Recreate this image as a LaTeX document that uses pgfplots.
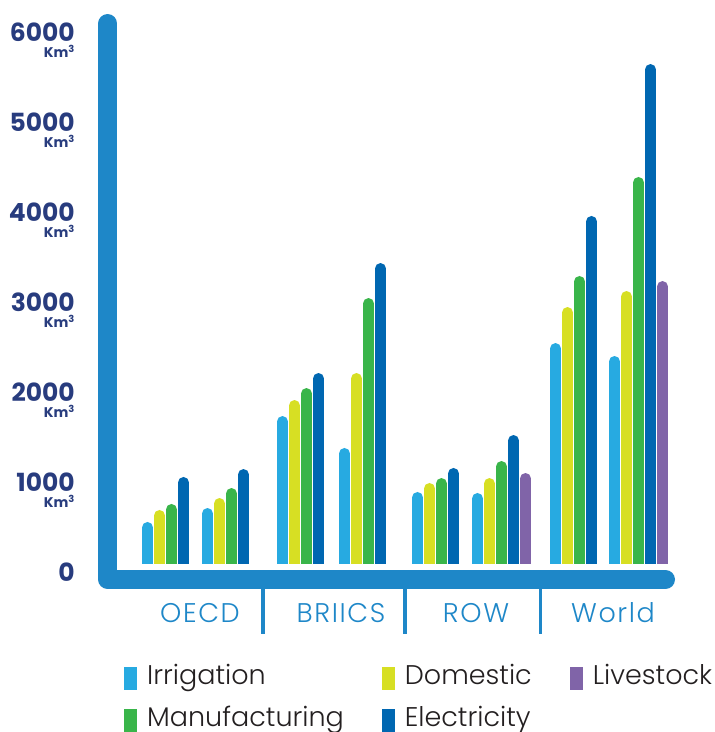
\documentclass[border=0pt]{standalone}
\usepackage{fontspec}
\setmainfont{Poppins}
\newfontfamily\lightfont{Poppins}[UprightFont=* Light]
\newfontfamily\catfont{Poppins}[UprightFont=* Light, LetterSpace=6]
\usepackage{pgfplots}
\usepackage{pgfplotstable}
\pgfplotsset{compat=1.18}

\definecolor{axblue}{HTML}{1E87C8}
\definecolor{navy}{HTML}{283C7E}
\definecolor{legtext}{HTML}{231F20}
\definecolor{cIrr}{HTML}{27AAE1}
\definecolor{cDom}{HTML}{D7DF23}
\definecolor{cMan}{HTML}{39B54A}
\definecolor{cEle}{HTML}{0067B1}
\definecolor{cLiv}{HTML}{8064A8}

% water withdrawals, km3; pos = centre of the group (x in picture units)
\pgfplotstableread{
pos   irr  dom  man  ele  liv
165.5 456  589  656  956  nan
225.5 611  722  833  1044 nan
300.5 1633 1811 1944 2111 nan
362.5 1278 2111 2944 3333 nan
435.5 789  889  944  1056 nan
495.5 778  944  1133 1422 1000
573.5 2444 2844 3189 3856 nan
632.5 2300 3022 4289 5544 3133
}\water

\newcommand\tl[1]{#1\\{\fontsize{14}{14}\selectfont Km\textsuperscript{3}}}

\pgfplotsset{
  barline/.style={ycomb, no markers, line width=11pt, line cap=round, yshift=-5.5pt,
    legend image code/.code={
      \fill[#1, draw=none] (0pt,0pt) rectangle (13pt,23pt);
      \path[draw=none, fill=none] (0pt,0pt) -- (23pt,0pt);}},
}

\begin{document}
\begin{tikzpicture}
\useasboundingbox (-100pt,-169pt) rectangle (615pt,563pt);
\begin{axis}[
  at={(0,0)}, anchor=south west,
  scale only axis, width=600pt, height=560pt,
  xmin=100, xmax=700, ymin=0, ymax=6222.2,
  clip mode=individual,
  axis line style={draw=none},
  major tick length=0pt,
  ytick={0,1000,2000,3000,4000,5000,6000},
  yticklabels={{0},{\tl{1000}},{\tl{2000}},{\tl{3000}},{\tl{4000}},{\tl{5000}},{\tl{6000}}},
  yticklabel style={anchor=north east, xshift=-25pt, inner sep=0pt, align=right,
    text=navy, font=\bfseries\fontsize{25}{16}\selectfont},
  xtick={168,225,304,363,442,500,578,636},
  xticklabels={2000,2050,2000,2050,2000,2050,2000,2050},
  xticklabel style={anchor=base, yshift=-24pt, inner sep=0pt, text=white,
    font=\bfseries\fontsize{17}{17}\selectfont},
  legend columns=3,
  legend style={at={(axis cs:124,-1122)}, anchor=north west, draw=none, fill=none,
    inner sep=0pt, font=\lightfont\fontsize{27}{27}\selectfont, text=legtext,
    cells={anchor=base west}, nodes={inner sep=0pt}, row sep=16pt,
    /tikz/every even column/.append style={column sep=38pt}},
]
% the L-shaped frame
\draw[axblue, line width=19pt, line cap=round, line join=round]
  (axis cs:107.8,5994) -- (axis cs:107.8,-183.3) -- (axis cs:665.5,-183.3);

\begin{scope}
\clip (axis cs:100,0) rectangle (axis cs:700,6222.2);
\addplot[barline, cIrr] table[x expr=\thisrow{pos}-18, y=irr]{\water};
\addlegendentry{Irrigation}
\addplot[barline, cDom] table[x expr=\thisrow{pos}-6, y=dom]{\water};
\addlegendentry{Domestic}
\addplot[barline, cLiv] table[x expr=\thisrow{pos}+30, y=liv]{\water};
\addlegendentry{Livestock}
\addplot[barline, cMan] table[x expr=\thisrow{pos}+6, y=man]{\water};
\addlegendentry{Manufacturing}
\addplot[barline, cEle] table[x expr=\thisrow{pos}+18, y=ele]{\water};
\addlegendentry{Electricity}
\end{scope}

% group separators and names
\draw[axblue, line width=3.5pt] (axis cs:263,-277.8) -- (axis cs:263,-788.9);
\draw[axblue, line width=3.5pt] (axis cs:405,-277.8) -- (axis cs:405,-788.9);
\draw[axblue, line width=3.5pt] (axis cs:540.5,-277.8) -- (axis cs:540.5,-788.9);
\begin{scope}[every node/.style={anchor=base, inner sep=0pt, text=axblue,
    font=\catfont\fontsize{27}{27}\selectfont}]
  \node at (axis cs:200,-655.6) {OECD};
  \node at (axis cs:341,-655.6) {BRIICS};
  \node at (axis cs:476,-655.6) {ROW};
  \node at (axis cs:613,-655.6) {World};
\end{scope}
\end{axis}
\end{tikzpicture}
\end{document}
